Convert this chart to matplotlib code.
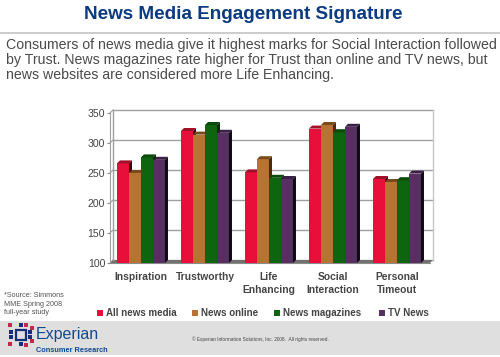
import numpy as np
import matplotlib
matplotlib.use('Agg')
import matplotlib.pyplot as plt
from matplotlib.patches import Polygon, Rectangle

plt.rcParams['font.family'] = ['Liberation Sans', 'DejaVu Sans']

categories = ['Inspiration', 'Trustworthy', 'Life\nEnhancing', 'Social\nInteraction', 'Personal\nTimeout']
all_news = [266, 320, 251, 324, 240]
news_online = [250, 314, 273, 330, 235]
news_magazines = [276, 330, 242, 318, 238]
tv_news = [272, 317, 240, 327, 249]

series = [all_news, news_online, news_magazines, tv_news]
series_names = ['All news media', 'News online', 'News magazines', 'TV News']
colors = ['#e8103a', '#b87333', '#0f640f', '#553060']
top_colors = ['#a01028', '#7a4a1c', '#0a4a0a', '#3a2045']
side_colors = ['#3a0510', '#4a2a08', '#032803', '#120818']
yticks = [100, 150, 200, 250, 300, 350]

W, H = 500, 357
fig = plt.figure(figsize=(W / 100, H / 100), dpi=100, facecolor='white')

# overlay in pixel coords for the slide furniture
bg = fig.add_axes([0, 0, 1, 1])
bg.set_xlim(0, W)
bg.set_ylim(H, 0)
bg.axis('off')

bg.text(243, 14.5, 'News Media Engagement Signature', ha='center', va='center',
        fontsize=13.6, fontweight='bold', color='#0a3a80')
bg.plot([0, 500], [33, 33], color='#c4c4c4', lw=1.2)
intro = ['Consumers of news media give it highest marks for Social Interaction followed',
         'by Trust. News magazines rate higher for Trust than online and TV news, but',
         'news websites are considered more Life Enhancing.']
for i, line in enumerate(intro):
    bg.text(6.5, 45 + i * 15.2, line, ha='left', va='center', fontsize=10.2, color='#4a4a4a')

bg.add_patch(Rectangle((0, 321), 500, 34, color='#dfdfdf', lw=0))
bg.text(4, 292, '*Source: Simmons\nMME Spring 2008\nfull-year study', ha='left', va='top',
        fontsize=5.2, color='#555555', linespacing=1.3)
bg.text(36, 335, 'Experian', ha='left', va='center', fontsize=11.5, color='#14488c')
bg.text(36, 351, 'Consumer Research', ha='left', va='center', fontsize=5.3,
        fontweight='bold', color='#14488c')
bg.text(260, 339, '© Experian Information Solutions, Inc. 2008.  All rights reserved.',
        ha='center', va='center', fontsize=3.4, color='#444444')

# logo: blue square with dots round it
bg.add_patch(Rectangle((16, 330), 10, 10, fill=False, ec='#14307c', lw=1.6))
logo_blue = [(21, 325), (11, 332), (11, 337), (30, 332), (30, 337), (21, 344)]
logo_red = [(10, 325), (26, 325), (32, 328), (32, 341), (10, 344), (26, 345)]
bg.scatter(*zip(*logo_blue), s=7, marker='s', color='#14307c', lw=0)
bg.scatter(*zip(*logo_red), s=6, marker='s', color='#c0284c', lw=0)

# chart axes, front plane from x=110..430, y=113..263
ax = fig.add_axes([110 / W, 1 - 263 / H, 320 / W, 150 / H])
ax.patch.set_alpha(0)
ax.set_xlim(-0.484, 4.516)
ax.set_ylim(100, 350)
x_px = 64.0
y_px = 0.6
dx = 3 / x_px
dy = 3 / y_px
width = 12 / x_px

# back wall and floor
ax.plot([-0.484 + dx, -0.484 + dx], [100 + dy, 350 + dy], color='#a0a0a0', lw=1, clip_on=False)
ax.plot([4.516 + dx, 4.516 + dx], [100 + dy, 350 + dy], color='#c8c8c8', lw=1, clip_on=False)
for v in yticks:
    ax.plot([-0.484 + dx, 4.516 + dx], [v + dy, v + dy], color='#a0a0a0', lw=1, clip_on=False, zorder=1)
    ax.plot([-0.484, -0.484 + dx], [v, v + dy], color='#a0a0a0', lw=0.8, clip_on=False, zorder=1)
ax.add_patch(Polygon([(-0.484, 100), (4.516, 100), (4.516 + dx, 100 + dy), (-0.484 + dx, 100 + dy)],
                     closed=True, color='#707070', lw=0, zorder=1, clip_on=False))

for s, vals in enumerate(series):
    for i, v in enumerate(vals):
        left = i + (s - 2) * width
        ax.bar(left, v - 100, width, bottom=100, align='edge', color=colors[s], lw=0, zorder=3 + s)
        ax.add_patch(Polygon([(left, v), (left + width, v), (left + width + dx, v + dy), (left + dx, v + dy)],
                             closed=True, color=top_colors[s], lw=0, zorder=3 + s, clip_on=False))
        ax.add_patch(Polygon([(left + width, 100), (left + width + dx, 100 + dy),
                              (left + width + dx, v + dy), (left + width, v)],
                             closed=True, color=side_colors[s], lw=0, zorder=3 + s, clip_on=False))

for side in ['top', 'right']:
    ax.spines[side].set_visible(False)
ax.spines['left'].set_color('#a0a0a0')
ax.spines['bottom'].set_color('#8c8c8c')
ax.set_yticks(yticks)
ax.set_xticks(range(5))
ax.set_xticklabels(categories, fontsize=7.4, fontweight='bold', color='#444444', linespacing=1.35)
ax.tick_params(axis='x', length=0, pad=6.5)
ax.tick_params(axis='y', length=2, pad=1.5, color='#8c8c8c', labelsize=7.6, labelcolor='#444444')

# legend
legend_x = [97, 192, 274, 379]
for name, c, lx in zip(series_names, colors, legend_x):
    bg.add_patch(Rectangle((lx, 310), 6, 6, color=c, lw=0))
    bg.text(lx + 9, 313.3, name, ha='left', va='center', fontsize=7.0, fontweight='bold', color='#444444')

fig.savefig('out.png', dpi=100)
